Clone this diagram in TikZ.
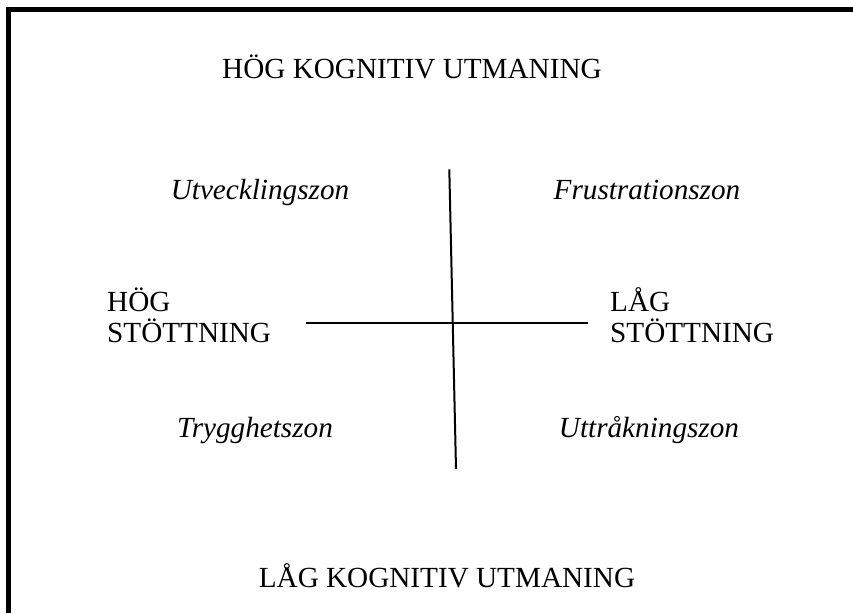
\documentclass[tikz,border=0pt]{standalone}
\usepackage{fontspec}
\setmainfont{Liberation Serif}
\usetikzlibrary{positioning}

\begin{document}
\begin{tikzpicture}[x=1pt,y=-1pt,
  lbl/.style={font=\fontsize{29.2}{31}\selectfont,inner sep=0pt},
  zon/.style={lbl,font=\fontsize{29.2}{31}\selectfont\itshape}]
  \useasboundingbox (0,0) rectangle (853,613);
  % frame (only top and left edges show)
  \draw[line width=5pt,miter limit=10] (8,613) -- (8,9.5) -- (853,9.5);
  % axes
  \coordinate (vtop) at (449.3,169.3);
  \coordinate (vbot) at (456,469);
  \coordinate (hl) at (305.7,322.7);
  \coordinate (hr) at (588.3,322.7);
  \draw[line width=2pt] (vtop) -- (vbot);
  \draw[line width=2pt] (hl) -- (hr);
  % labels
  \node[lbl,anchor=base] (hogkog) at (412,78) {HÖG KOGNITIV UTMANING};
  \node[lbl,anchor=base] (lagkog) at (447,587) {LÅG KOGNITIV UTMANING};
  \node[lbl,anchor=base west,align=left] (hogst) at (107,342) {HÖG\\STÖTTNING};
  \node[lbl,anchor=base west,align=left] (lagst) at (610,342) {LÅG\\STÖTTNING};
  \node[zon,anchor=base] (utv) at (260,199) {Utvecklingszon};
  \node[zon,anchor=base] (fru) at (647,199) {Frustrationszon};
  \node[zon,anchor=base] (try) at (255,437) {Trygghetszon};
  \node[zon,anchor=base] (utt) at (649,437) {Uttråkningszon};
\end{tikzpicture}
\end{document}
